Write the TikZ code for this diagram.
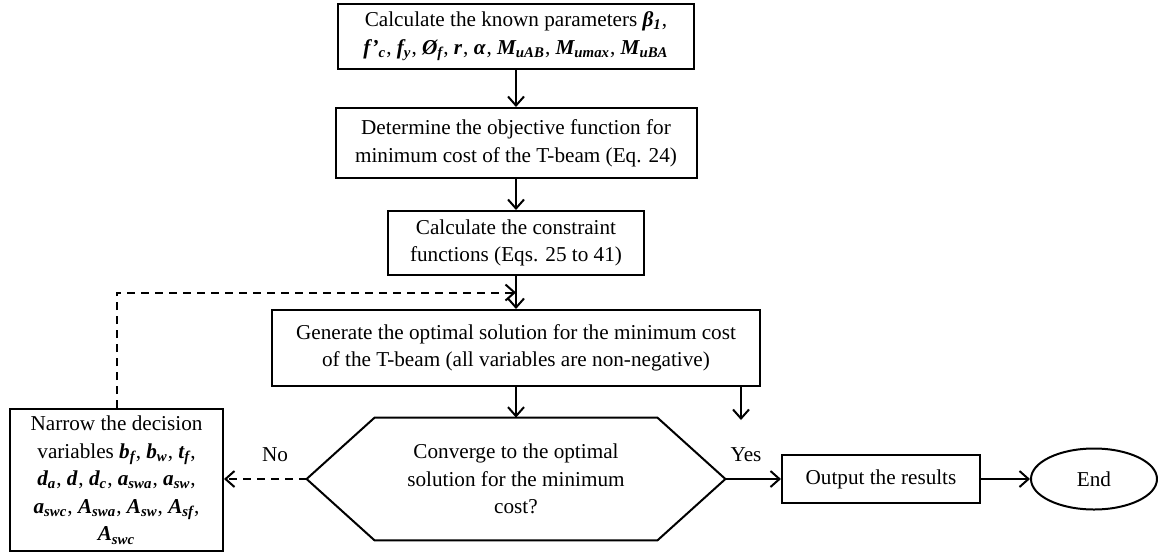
\documentclass[tikz,border=0pt]{standalone}
\usepackage{fontspec}
\setmainfont{Liberation Serif}
\usetikzlibrary{shapes.geometric,calc,positioning,arrows.meta}
\newcommand{\pvar}[2]{\textbf{\textit{#1\textsubscript{#2}}}}

\begin{document}
\begin{tikzpicture}[x=0.5pt,y=-0.5pt,
    font=\fontsize{10.6}{13.8}\selectfont,
    box/.style={draw, line width=1pt, align=center, inner sep=0pt},
    flow/.style={line width=1pt, -{Straight Barb[length=4.5pt,width=8pt]}},
    loop/.style={flow, dash pattern=on 4pt off 3pt}]

    \useasboundingbox (0,0) rectangle (1158,553);

    % Main steps
    \node[box, minimum width=178pt, minimum height=32.5pt] (calc) at (516,36)
        {Calculate the known parameters \pvar{β}{1},\\
         \pvar{f’}{c}, \pvar{f}{y}, \pvar{Ø}{f}, \pvar{r}{}, \pvar{α}{}, \pvar{M}{uAB}, \pvar{M}{umax}, \pvar{M}{uBA}};
    \node[box, minimum width=180.5pt, minimum height=35pt] (objfun) at (516,143)
        {Determine the objective function for\\ minimum cost of the T-beam (Eq. 24)};
    \node[box, minimum width=128pt, minimum height=32pt] (constr) at (516,243)
        {Calculate the constraint\\ functions (Eqs. 25 to 41)};
    \node[box, minimum width=244pt, minimum height=38pt] (optsol) at (516,348)
        {Generate the optimal solution for the minimum cost\\ of the T-beam (all variables are non-negative)};

    % Decision (hexagon)
    \node[align=center, minimum width=209pt, minimum height=61pt] (conv) at (516,479)
        {Converge to the optimal\\ solution for the minimum\\ cost?};
    \draw[line width=1pt] (conv.west) -- ($(conv.north west)+(68,0)$) -- ($(conv.north east)+(-68,0)$)
        -- (conv.east) -- ($(conv.south east)+(-68,0)$) -- ($(conv.south west)+(68,0)$) -- cycle;

    % Side boxes
    \node[box, minimum width=106.5pt, minimum height=71pt] (narrow) at (116.5,480)
        {Narrow the decision\\ variables \pvar{b}{f}, \pvar{b}{w}, \pvar{t}{f},\\
         \pvar{d}{a}, \pvar{d}{}, \pvar{d}{c}, \pvar{a}{swa}, \pvar{a}{sw},\\
         \pvar{a}{swc}, \pvar{A}{swa}, \pvar{A}{sw}, \pvar{A}{sf},\\ \pvar{A}{swc}};
    \node[box, minimum width=99pt, minimum height=24pt] (output) at (881,479) {Output the results};
    \node[draw, ellipse, line width=1pt, minimum width=63pt, minimum height=30.5pt] (stop) at (1094,479) {End};

    % Labels
    \node (no) at (275,455) {No};
    \node (yes) at (746,455) {Yes};

    % Arrows
    \draw[flow] (calc) -- (objfun);
    \draw[flow] (objfun) -- (constr);
    \draw[flow] (constr) -- (optsol);
    \draw[flow] (optsol) -- (conv.north);
    \coordinate (yesdrop) at (741,420);
    \draw[flow] (optsol.south -| yesdrop) -- (yesdrop);
    \draw[flow] (conv.east) -- (output.west);
    \draw[flow] (output) -- (stop);
    \draw[loop] (conv.west) -- (narrow.east |- conv.west);

    % Loop back
    \coordinate (back) at ($(constr.south)!0.5!(optsol.north)$);
    \draw[loop] (narrow.north) |- (back);

\end{tikzpicture}
\end{document}
